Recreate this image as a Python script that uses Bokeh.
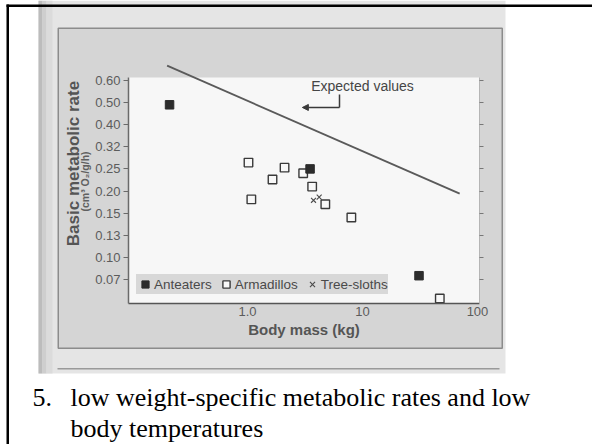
import numpy as np
from bokeh.plotting import figure
from bokeh.models import (BoxAnnotation, Label, Legend, LegendItem, FixedTicker,
                          Range1d, Arrow, NormalHead, LinearAxis, LogAxis)
from bokeh.embed import file_html
from bokeh.resources import INLINE

# ---------------- data ----------------
rate_ticks = [0.07, 0.10, 0.13, 0.15, 0.20, 0.25, 0.32, 0.40, 0.50, 0.60]
rate_tick_labels = ["0.07", "0.10", "0.13", "0.15", "0.20", "0.25", "0.32", "0.40", "0.50", "0.60"]
mass_ticks = [1, 10, 100]
mass_tick_labels = ["1.0", "10", "100"]

anteater_mass = [0.21, 3.5, 31.0]
anteater_rate = [0.49, 0.25, 0.075]

armadillo_mass = [1.02, 2.1, 3.05, 1.65, 3.65, 1.08, 4.75, 8.0, 47.0]
armadillo_rate = [0.27, 0.254, 0.24, 0.226, 0.21, 0.181, 0.17, 0.146, 0.044]

sloth_mass = [3.75, 4.2]
sloth_rate = [0.179, 0.186]

expected_mass = [0.20, 70.0]
expected_rate = [0.667, 0.194]

caption_number = "5."
caption_lines = ["low weight-specific metabolic rates and low", "body temperatures"]

# The printed y-axis places its uneven tick values at equal spacing.
tick_pos = np.arange(len(rate_ticks), dtype=float)


def rate_to_pos(vals):
    vals = np.asarray(vals, dtype=float)
    t = np.asarray(rate_ticks)
    out = np.interp(vals, t, tick_pos)
    lo = vals < t[0]
    out[lo] = (vals[lo] - t[0]) / (t[1] - t[0])
    hi = vals > t[-1]
    out[hi] = tick_pos[-1] + (vals[hi] - t[-1]) / (t[-1] - t[-2])
    return out


FONT = "Liberation Sans"
SERIF = "Liberation Serif"
PANEL = "#d5d5d5"
W, H = 592, 444

# page-pixel geometry of the chart: 1 kg at x=247, 115 px per decade;
# 0.60 tick at y=80, 22.1 px per tick step
def xpx(px):
    return 10 ** ((px - 247) / 115.0)


def ypx(py):
    return 9 - (py - 80) / 22.1


PL, PR, PT, PB = 128, 479, 77, 303   # plot area edges (px)

p = figure(width=W, height=H, x_axis_type="log",
           x_range=Range1d(xpx(0), xpx(W)), y_range=Range1d(ypx(H), ypx(0)),
           x_axis_location=None, y_axis_location=None,
           output_backend="svg", toolbar_location=None, title=None, min_border=0)
p.outline_line_color = None
p.border_fill_color = "white"
p.background_fill_color = "white"
p.grid.visible = False


def cbox(l, r, t, b, color, **kw):
    p.add_layout(BoxAnnotation(left=l, right=r, top=t, bottom=b,
                               left_units="canvas", right_units="canvas",
                               top_units="canvas", bottom_units="canvas",
                               fill_color=color, fill_alpha=1.0, level="underlay", **kw))


# scanned page with gutter shading
cbox(38, 505, 0, 373, "#e5e5e5", line_color=None)
cbox(38, 42, 0, 373, "#bcbcbc", line_color=None)
cbox(42, 46, 0, 373, "#cecece", line_color=None)
cbox(46, 52, 0, 373, "#dbdbdb", line_color=None)
# figure panel with its frame
cbox(57.75, 501.75, 27.75, 347.75, PANEL, line_color="#8c8c8c", line_width=1.5, line_alpha=1.0)
# white plot area
cbox(PL, PR, PT, PB, "#f7f7f7", line_color=None)
# rule under the figure
cbox(57, 499, 367.5, 369, "#9a9a9a", line_color=None)
# slide border
cbox(6, 8.5, 4, H + 5, "black", line_color=None)
cbox(6, W + 5, 4, 6.5, "black", line_color=None)

# ---------------- axes (drawn at the plot-area edges) ----------------
ybounds = (ypx(PB), ypx(PT))
xbounds = (xpx(PL), xpx(PR))

ya = LinearAxis(fixed_location=xpx(PL), bounds=ybounds,
                ticker=FixedTicker(ticks=list(tick_pos)),
                major_label_overrides={float(i): s for i, s in zip(tick_pos, rate_tick_labels)})
ya.axis_line_color = "#6a6a6a"
ya.axis_line_width = 1.5
ya.major_tick_line_color = "#6a6a6a"
ya.major_tick_out = 5
ya.major_tick_in = 0
ya.minor_tick_line_color = None
ya.major_label_standoff = 3
ya.major_label_text_font = FONT
ya.major_label_text_font_size = "13px"
ya.major_label_text_color = "#5c5c5c"
p.add_layout(ya, "left")

ra = LinearAxis(fixed_location=xpx(PR), bounds=ybounds,
                ticker=FixedTicker(ticks=list(tick_pos)))
ra.axis_line_color = "#b5b5b5"
ra.major_tick_line_color = "#777777"
ra.major_tick_out = 4
ra.major_tick_in = 0
ra.minor_tick_line_color = None
ra.major_label_text_color = None
ra.major_label_text_font_size = "1px"
p.add_layout(ra, "right")

xa = LogAxis(fixed_location=ypx(PB), bounds=xbounds, ticker=FixedTicker(ticks=mass_ticks),
             major_label_overrides={float(v): s for v, s in zip(mass_ticks, mass_tick_labels)})
xa.axis_line_color = "#555555"
xa.axis_line_width = 1.5
xa.major_tick_out = 0
xa.major_tick_in = 0
xa.minor_tick_line_color = None
xa.major_label_standoff = 3
xa.major_label_text_font = FONT
xa.major_label_text_font_size = "13px"
xa.major_label_text_color = "#5c5c5c"
xa.axis_label = "Body mass (kg)"
xa.axis_label_text_font = FONT
xa.axis_label_text_font_style = "bold"
xa.axis_label_text_font_size = "15px"
xa.axis_label_text_color = "#555555"
xa.axis_label_standoff = 2
p.add_layout(xa, "below")

# y-axis title (two lines)
p.add_layout(Label(x=73, y=163, x_units="canvas", y_units="canvas",
                   text="Basic metabolic rate", angle=np.pi / 2,
                   text_align="center", text_baseline="middle",
                   text_font=FONT, text_font_style="bold",
                   text_font_size="17px", text_color="#555555"))
p.add_layout(Label(x=84, y=181, x_units="canvas", y_units="canvas",
                   text="(cm³ O₂/g/h)", angle=np.pi / 2,
                   text_align="center", text_baseline="middle",
                   text_font=FONT, text_font_style="bold",
                   text_font_size="10.5px", text_color="#606060"))

# ---------------- data marks ----------------
exp_r = p.line(expected_mass, rate_to_pos(expected_rate).tolist(),
               line_color="#5a5a5a", line_width=1.8)
arm = p.scatter(armadillo_mass, rate_to_pos(armadillo_rate).tolist(), marker="square",
                size=8.5, fill_color="#f8f8f8", line_color="#3a3a3a", line_width=1.4)
ant = p.scatter(anteater_mass, rate_to_pos(anteater_rate).tolist(), marker="square",
                size=8.5, fill_color="#2c2c2c", line_color="#2c2c2c")
slo = p.scatter(sloth_mass, rate_to_pos(sloth_rate).tolist(), marker="x",
                size=7, line_color="#4a4a4a", line_width=1.1)

p.add_layout(Label(x=10.0, y=float(rate_to_pos([0.577])[0]), text="Expected values",
                   text_align="center", text_baseline="middle",
                   text_font=FONT, text_font_size="14px", text_color="#454545"))
ay_top = float(rate_to_pos([0.537])[0])
ay_bot = float(rate_to_pos([0.478])[0])
p.add_layout(Arrow(x_start=6.31, y_start=ay_top, x_end=6.31, y_end=ay_bot,
                   end=None, line_color="#3a3a3a", line_width=1.5))
p.add_layout(Arrow(x_start=6.31, y_start=ay_bot, x_end=3.0, y_end=ay_bot,
                   end=NormalHead(size=6, fill_color="#3a3a3a", line_color="#3a3a3a"),
                   line_color="#3a3a3a", line_width=1.5))

legend = Legend(items=[LegendItem(label="Anteaters", renderers=[ant]),
                       LegendItem(label="Armadillos", renderers=[arm]),
                       LegendItem(label="Tree-sloths", renderers=[slo])],
                orientation="horizontal", location=(136, H - 294),
                background_fill_color="#d8d8d8", background_fill_alpha=1.0,
                border_line_color=None, padding=1, margin=0,
                glyph_width=18, glyph_height=20, label_standoff=0, spacing=5,
                label_text_font=FONT, label_text_font_size="13.5px",
                label_text_color="#4a4a4a")
p.add_layout(legend, "center")

# ---------------- caption ----------------
for x, y, t in [(32, 397, caption_number), (70, 397, caption_lines[0]), (70, 428, caption_lines[1])]:
    p.add_layout(Label(x=x, y=y, x_units="canvas", y_units="canvas", text=t,
                       text_font=SERIF, text_font_size="26px", text_color="black",
                       text_baseline="alphabetic"))

open("out.html", "w").write(file_html(p, INLINE))
